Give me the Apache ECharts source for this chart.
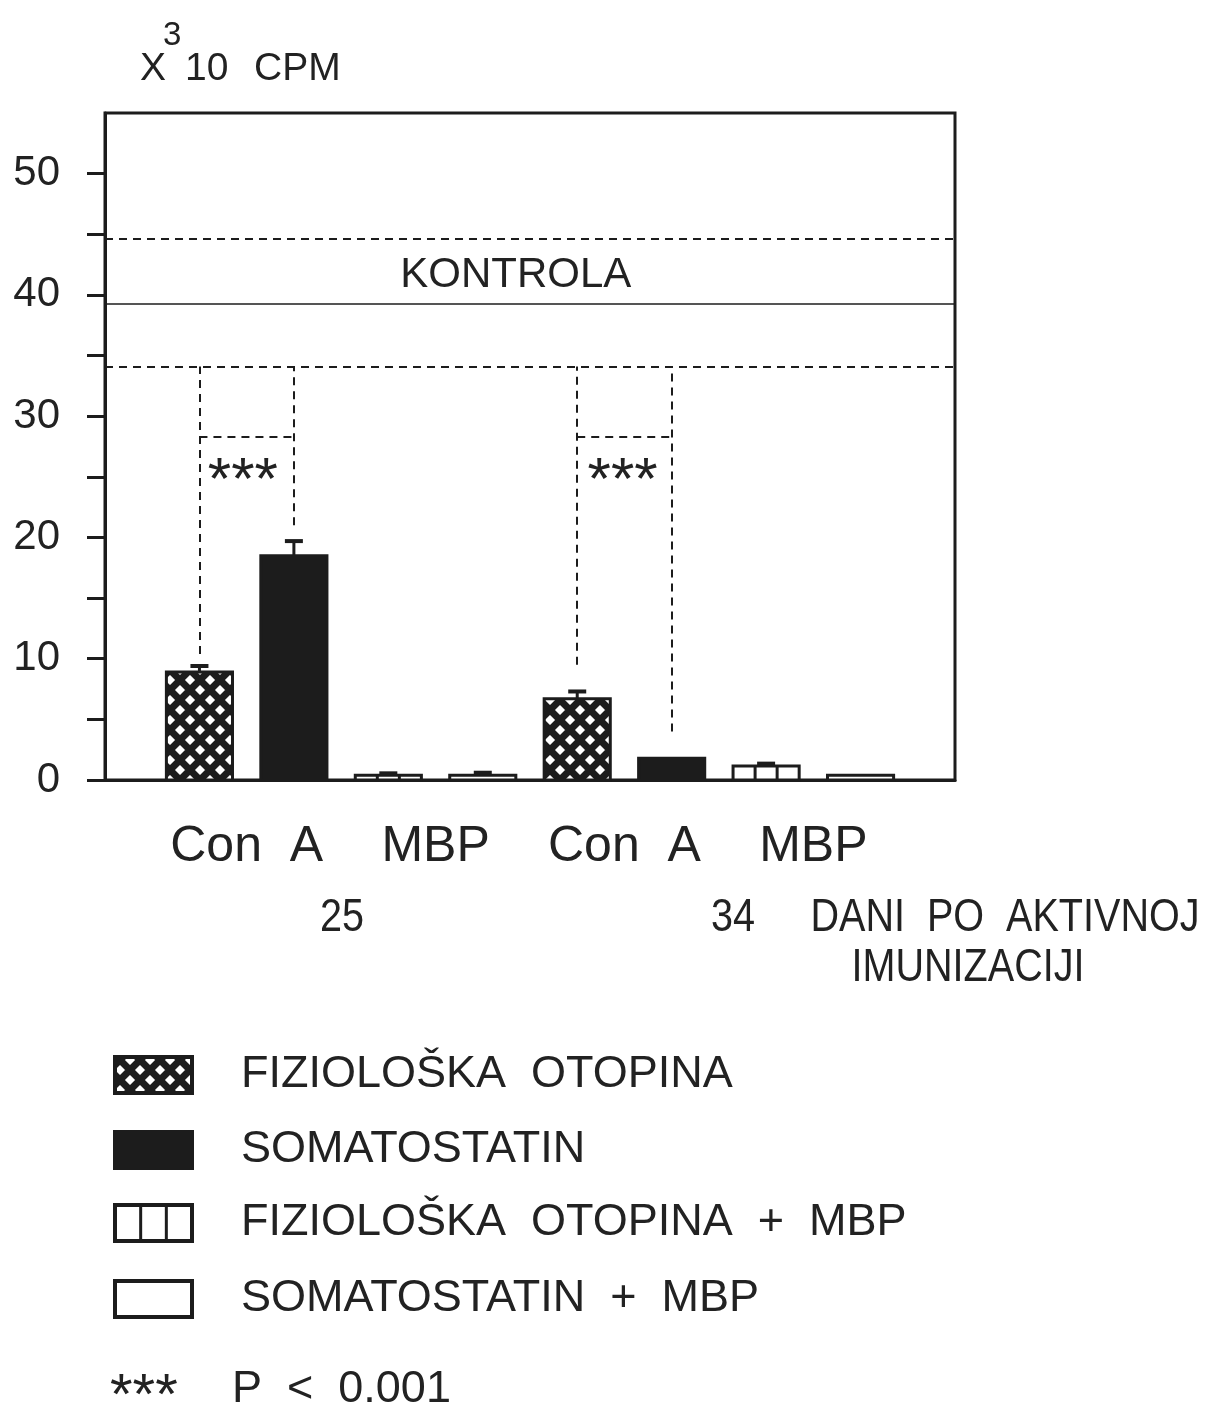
<!DOCTYPE html>
<html>
<head>
<meta charset="utf-8">
<script src="https://cdn.jsdelivr.net/npm/echarts@6/dist/echarts.min.js"></script>
<style>
	html, body { margin: 0; padding: 0; background: #ffffff; }
	#chart { width: 1212px; height: 1407px; }
</style>
</head>
<body>
<div id="chart"></div>
<script>
	// podaci očitani sa slike (x 10^3 CPM)
	var barPositions = [1, 2, 3, 4, 5, 6, 7, 8];
	var barGroups = [0, 1, 2, 3, 0, 1, 2, 3];
	var barValues = [8.9, 18.5, 0.4, 0.4, 6.7, 1.8, 1.15, 0.4];
	var barErrors = [0.5, 1.2, 0.15, 0.2, 0.6, 0, 0.2, 0];

	var groupNames = ["FIZIOLOŠKA  OTOPINA", "SOMATOSTATIN", "FIZIOLOŠKA  OTOPINA  +  MBP", "SOMATOSTATIN  +  MBP"];
	var categoryLabels = ["Con  A", "MBP", "Con  A", "MBP"];
	var categoryPositions = [1.5, 3.5, 5.5, 7.5];
	var dayLabels = ["25", "34"];
	var yTickValues = [0, 5, 10, 15, 20, 25, 30, 35, 40, 45, 50];

	var kontrolaMean = 39.3;
	var kontrolaLow = 34.1;
	var kontrolaHigh = 44.6;

	// okomite crtkane linije (***) prema kontroli
	var bracketX = [1, 2, 5, 6];
	var bracketLow = [10.4, 21.0, 9.5, 4.0];
	var bracketBarY = 28.3;
	var starsPositions = [[1.46, 25.5], [5.48, 25.5]];

	var INK = "#1c1c1c";
	var TEXT = "#222222";
	var FONT = "'Liberation Sans', Arial, sans-serif";

	function crossHatchCanvas()
	{
		var c = document.createElement("canvas");
		c.width = 20;
		c.height = 20;
		var ctx = c.getContext("2d");
		ctx.fillStyle = "#ffffff";
		ctx.fillRect(0, 0, 20, 20);
		ctx.strokeStyle = INK;
		ctx.lineWidth = 7;
		ctx.beginPath();
		for(var k=-20; k<=20; k+=20)
		{
			ctx.moveTo(k - 5, -5);
			ctx.lineTo(k + 25, 25);
			ctx.moveTo(k + 25, -5);
			ctx.lineTo(k - 5, 25);
		}
		ctx.stroke();
		return c;
	}

	var hatch = { image: crossHatchCanvas(), repeat: "repeat" };

	function groupFill(g)
	{
		if(g == 0) return hatch;
		if(g == 1) return INK;
		return "#ffffff";
	}

	function renderBar(params, api)
	{
		var x = api.value(0);
		var v = api.value(1);
		var err = api.value(2);
		var g = api.value(3);
		var base = api.coord([x, 0]);
		var top = api.coord([x, v]);
		var w = api.size([0.7, 0])[0];
		var left = base[0] - w / 2;
		var children = [];

		children.push({
			type: "rect",
			shape: { x: left, y: top[1], width: w, height: base[1] - top[1] },
			style: { fill: groupFill(g), stroke: INK, lineWidth: 3 }
		});

		if(g == 2)
		{
			for(var i=1; i<3; i++)
			{
				var lx = left + w * i / 3;
				children.push({
					type: "line",
					shape: { x1: lx, y1: top[1], x2: lx, y2: base[1] },
					style: { stroke: INK, lineWidth: 3 }
				});
			}
		}

		if(err > 0)
		{
			var cap = api.coord([x, v + err]);
			children.push({
				type: "line",
				shape: { x1: base[0], y1: top[1], x2: base[0], y2: cap[1] },
				style: { stroke: INK, lineWidth: 3 }
			});
			children.push({
				type: "line",
				shape: { x1: base[0] - 9, y1: cap[1], x2: base[0] + 9, y2: cap[1] },
				style: { stroke: INK, lineWidth: 4 }
			});
		}

		return { type: "group", children: children };
	}

	var barData = [];
	for(var i=0; i<barPositions.length; i++)
		barData.push([barPositions[i], barValues[i], barErrors[i], barGroups[i]]);

	var bracketLines = [];
	for(var i=0; i<bracketX.length; i++)
		bracketLines.push({ coords: [[bracketX[i], bracketLow[i]], [bracketX[i], kontrolaLow]] });
	bracketLines.push({ coords: [[bracketX[0], bracketBarY], [bracketX[1], bracketBarY]] });
	bracketLines.push({ coords: [[bracketX[2], bracketBarY], [bracketX[3], bracketBarY]] });

	var dashed = { color: INK, width: 2, type: [8, 6], opacity: 1 };

	// legenda i slobodni tekstovi
	var graphics = [];
	function addText(text, x, y, size, align, scaleX)
	{
		graphics.push({
			type: "text", x: x, y: y, scaleX: scaleX || 1,
			style: { text: text, fill: TEXT, font: size + "px " + FONT, textAlign: align || "left", textVerticalAlign: "middle" }
		});
	}

	addText("X", 140, 69, 39);
	addText("3", 163, 36, 33);
	addText("10", 185, 69, 39);
	addText("CPM", 254, 69, 39);

	addText(dayLabels[0], 342, 918, 46, "center", 0.86);
	addText(dayLabels[1], 733, 918, 46, "center", 0.86);
	addText("DANI  PO  AKTIVNOJ", 1005, 918, 46, "center", 0.86);
	addText("IMUNIZACIJI", 968, 968, 46, "center", 0.86);

	var legendRowY = [1075, 1150, 1223, 1299];
	for(var g=0; g<groupNames.length; g++)
	{
		var ry = legendRowY[g];
		graphics.push({
			type: "rect",
			shape: { x: 115, y: ry - 18, width: 77, height: 36 },
			style: { fill: groupFill(g), stroke: INK, lineWidth: 4 }
		});
		if(g == 2)
		{
			for(var k=1; k<3; k++)
				graphics.push({
					type: "line",
					shape: { x1: 115 + 77 * k / 3, y1: ry - 18, x2: 115 + 77 * k / 3, y2: ry + 18 },
					style: { stroke: INK, lineWidth: 3 }
				});
		}
		addText(groupNames[g], 241, ry, 45);
	}
	addText("***", 110, 1398, 58);
	addText("P  <  0.001", 232, 1390, 45);

	var chart = echarts.init(document.getElementById("chart"));

	chart.setOption({
		backgroundColor: "#ffffff",
		animation: false,
		textStyle: { fontFamily: FONT },
		grid: {
			left: 105, right: 257, top: 113, bottom: 627,
			show: true, borderColor: INK, borderWidth: 3, backgroundColor: "transparent"
		},
		xAxis: {
			type: "value", min: 0, max: 9, interval: 0.5,
			axisLine: { lineStyle: { color: INK, width: 3 } },
			axisTick: { show: false },
			splitLine: { show: false },
			axisLabel: {
				color: TEXT, fontSize: 50, margin: 42,
				formatter: function(v)
				{
					var idx = categoryPositions.indexOf(v);
					return idx >= 0 ? categoryLabels[idx] : "";
				}
			}
		},
		yAxis: {
			type: "value", min: 0, max: 55, interval: 5,
			axisLine: { show: true, lineStyle: { color: INK, width: 3 } },
			axisTick: { show: true, length: 18, customValues: yTickValues, lineStyle: { color: INK, width: 3 } },
			splitLine: { show: false },
			axisLabel: {
				color: TEXT, fontSize: 42, margin: 45,
				formatter: function(v) { return (v % 10 == 0 && v < 55) ? String(v) : ""; }
			}
		},
		series: [
			{
				type: "lines", coordinateSystem: "cartesian2d", silent: true, z: 1,
				lineStyle: dashed,
				data: [
					{ coords: [[0, kontrolaHigh], [9, kontrolaHigh]] },
					{ coords: [[0, kontrolaLow], [9, kontrolaLow]] }
				].concat(bracketLines)
			},
			{
				type: "lines", coordinateSystem: "cartesian2d", silent: true, z: 1,
				lineStyle: { color: INK, width: 1.5, type: "solid", opacity: 1 },
				data: [{ coords: [[0, kontrolaMean], [9, kontrolaMean]] }]
			},
			{
				type: "scatter", symbolSize: 0, silent: true,
				itemStyle: { opacity: 1 },
				data: [[4.35, 41.6]],
				label: { show: true, position: "inside", formatter: "KONTROLA", color: TEXT, opacity: 1, fontSize: 42, textBorderWidth: 0 }
			},
			{
				type: "scatter", symbolSize: 0, silent: true,
				itemStyle: { opacity: 1 },
				data: starsPositions,
				label: { show: true, position: "inside", formatter: "***", color: TEXT, opacity: 1, fontSize: 60, textBorderWidth: 0, offset: [0, 12] }
			},
			{
				type: "custom", z: 3,
				renderItem: renderBar,
				encode: { x: 0, y: 1 },
				data: barData
			}
		],
		graphic: graphics
	});
</script>
</body>
</html>
